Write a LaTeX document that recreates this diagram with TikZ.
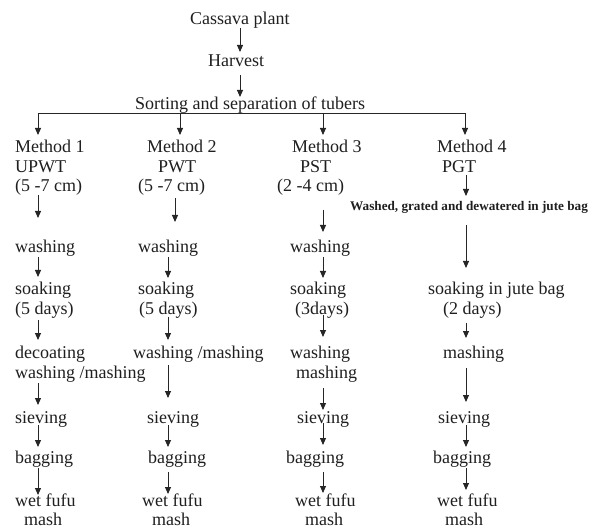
\documentclass[tikz,border=0pt]{standalone}
\usepackage{fontspec}
\setmainfont{Liberation Serif}
\usetikzlibrary{arrows.meta,calc}
\newcommand\myflow[5]{\draw[arr] ($(#1.base west -| #3)+(0,#4)$) -- ($(#2.base west -| #3)+(0,-#5)$);}
\begin{document}
\begin{tikzpicture}[x=1pt,y=-1pt,
  txt/.style={inner sep=0pt, anchor=base west, text=black!88, font=\fontsize{18}{20}\selectfont},
  bld/.style={inner sep=0pt, anchor=base west, text=black!88, font=\fontsize{13.2}{15}\selectfont\bfseries},
  arr/.style={draw=black!85, line width=0.9pt, -{Triangle[width=6pt,length=7pt]}},
  ln/.style={draw=black!85, line width=0.9pt}]
\useasboundingbox (0,0) rectangle (597,529);
% column coordinates
\coordinate (t) at (240,0);
\coordinate (k1) at (38,0);
\coordinate (k2) at (180,0);
\coordinate (k3) at (323,0);
\coordinate (k4) at (465,0);
\coordinate (c1) at (38,0);
\coordinate (c2) at (168,0);
\coordinate (c2a) at (175,0);
\coordinate (c3) at (323,0);
\coordinate (c4) at (466,0);
% top
\node[txt] (cas) at (190,25) {Cassava plant};
\node[txt] (har) at (208,67) {Harvest};
\node[txt] (sor) at (135,110) {Sorting and separation of tubers};
% methods
\node[txt] (m1) at (15,153) {Method 1};
\node[txt] (u1) at (15,173) {UPWT};
\node[txt] (u1c) at (15,192) {(5 -7 cm)};
\node[txt] (m2) at (147,153) {Method 2};
\node[txt] (p2) at (158,173) {PWT};
\node[txt] (u2c) at (138,192) {(5 -7 cm)};
\node[txt] (m3) at (292,153) {Method 3};
\node[txt] (p3) at (300,173) {PST};
\node[txt] (u3c) at (277,192) {(2 -4 cm)};
\node[txt] (m4) at (437,153) {Method 4};
\node[txt] (p4) at (442,173) {PGT};
\node[bld] (wash) at (350,211) {Washed, grated and dewatered in jute bag};
% column 1
\node[txt] (w1) at (15,253) {washing};
\node[txt] (s1) at (15,295) {soaking};
\node[txt] (d1) at (15,315) {(5 days)};
\node[txt] (dc1) at (15,358) {decoating};
\node[txt] (wm1) at (15,378) {washing /mashing};
\node[txt] (sv1) at (15,423) {sieving};
\node[txt] (bg1) at (15,463) {bagging};
\node[txt] (wf1) at (15,506) {wet fufu};
\node[txt] (ms1) at (24,525) {mash};
% column 2
\node[txt] (w2) at (138,253) {washing};
\node[txt] (s2) at (138,295) {soaking};
\node[txt] (d2) at (139,315) {(5 days)};
\node[txt] (wm2) at (133,358) {washing /mashing};
\node[txt] (sv2) at (147,423) {sieving};
\node[txt] (bg2) at (148,463) {bagging};
\node[txt] (wf2) at (142,506) {wet fufu};
\node[txt] (ms2) at (152,525) {mash};
% column 3
\node[txt] (w3) at (290,253) {washing};
\node[txt] (s3) at (290,295) {soaking};
\node[txt] (d3) at (295,315) {(3days)};
\node[txt] (wa3) at (290,358) {washing};
\node[txt] (ma3) at (296,378) {mashing};
\node[txt] (sv3) at (297,423) {sieving};
\node[txt] (bg3) at (286,463) {bagging};
\node[txt] (wf3) at (295,506) {wet fufu};
\node[txt] (ms3) at (305,525) {mash};
% column 4
\node[txt] (sj) at (428,295) {soaking in jute bag};
\node[txt] (d4) at (443,315) {(2 days)};
\node[txt] (ma4) at (443,358) {mashing};
\node[txt] (sv4) at (438,423) {sieving};
\node[txt] (bg4) at (433,463) {bagging};
\node[txt] (wf4) at (437,506) {wet fufu};
\node[txt] (ms4) at (445,525) {mash};
% top arrows
\myflow{cas}{har}{t}{3}{15}
\myflow{har}{sor}{t}{8}{13}
\coordinate (bar) at ($(sor.base west)+(0,3)$);
\draw[ln] (bar -| k1) -- (bar -| k4);
\draw[arr] (bar -| k1) -- ($(m1.base west -| k1)+(0,-18)$);
\draw[arr] (bar -| k2) -- ($(m2.base west -| k2)+(0,-18)$);
\draw[arr] (bar -| k3) -- ($(m3.base west -| k3)+(0,-18)$);
\draw[arr] (bar -| k4) -- ($(m4.base west -| k4)+(0,-18)$);
% column 1 arrows
\myflow{u1c}{w1}{c1}{3}{35}
\myflow{w1}{s1}{c1}{4}{18}
\myflow{d1}{dc1}{c1}{5}{18}
\myflow{wm1}{sv1}{c1}{5}{18}
\myflow{sv1}{bg1}{c1}{2}{16}
\myflow{bg1}{wf1}{c1}{5}{11}
% column 2 arrows
\myflow{u2c}{w2}{c2a}{6}{31}
\myflow{w2}{s2}{c2}{4}{17}
\myflow{d2}{wm2}{c2}{2}{18}
\myflow{wm2}{sv2}{c2}{7}{25}
\myflow{sv2}{bg2}{c2}{2}{16}
\myflow{bg2}{wf2}{c2}{9}{12}
% column 3 arrows
\myflow{u3c}{w3}{c3}{18}{21}
\myflow{w3}{s3}{c3}{4}{17}
\myflow{d3}{wa3}{c3}{0}{21}
\myflow{ma3}{sv3}{c3}{10}{13}
\myflow{sv3}{bg3}{c3}{0}{18}
\myflow{bg3}{wf3}{c3}{9}{13}
% column 4 arrows
\myflow{p4}{wash}{c4}{2}{15}
\myflow{wash}{sj}{c4}{14}{27}
\myflow{d4}{ma4}{c4}{8}{20}
\myflow{ma4}{sv4}{c4}{10}{21}
\myflow{sv4}{bg4}{c4}{2}{16}
\myflow{bg4}{wf4}{c4}{5}{16}
\end{tikzpicture}
\end{document}
